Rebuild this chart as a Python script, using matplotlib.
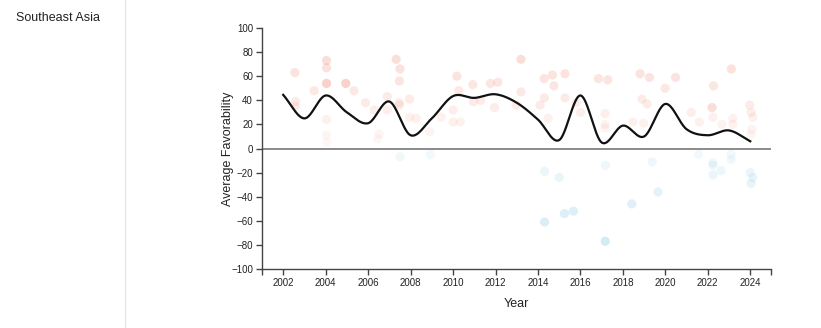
import numpy as np
import matplotlib
matplotlib.use("Agg")
import matplotlib.pyplot as plt

plt.rcParams['font.family'] = ['Liberation Sans', 'DejaVu Sans']

region = "Southeast Asia"

# yearly average favorability (trend line)
trend_years = list(range(2002, 2025))
trend_vals = [44.5, 25, 44, 30, 21, 39, 11, 25, 43.5, 42, 45, 38, 24,
              7, 44, 5, 19, 10, 37, 16, 11, 15, 6]

# individual survey results
survey_years = [
    2002.55, 2002.58, 2002.58, 2003.46, 2004.04, 2004.04, 2004.04, 2004.04,
    2004.04, 2004.04, 2004.04, 2004.95, 2004.95, 2005.33, 2005.88, 2006.28,
    2006.52, 2006.45, 2006.9, 2006.9, 2007.32, 2007.5, 2007.47, 2007.47,
    2007.47, 2007.95, 2007.95, 2008.26, 2008.9, 2009.44, 2010.18, 2010.27,
    2010.0, 2010.0, 2010.34, 2010.93, 2010.96, 2011.3, 2011.76, 2012.11,
    2011.95, 2012.97, 2013.2, 2013.2, 2014.1, 2014.29, 2014.3, 2014.48,
    2014.68, 2014.75, 2015.27, 2015.27, 2015.8, 2016.0, 2016.85, 2017.29,
    2017.16, 2017.16, 2017.16, 2018.47, 2018.81, 2018.9, 2018.97, 2019.14,
    2019.25, 2019.99, 2020.48, 2021.22, 2021.6, 2022.2, 2022.2, 2022.27,
    2022.24, 2022.66, 2023.11, 2023.18, 2023.18, 2023.97, 2024.04, 2024.12,
    2024.08, 2024.04,
    # negative results
    2007.5, 2008.93, 2014.31, 2015.0, 2014.31, 2015.25, 2015.67, 2017.18,
    2017.17, 2018.42, 2019.38, 2019.65, 2021.56, 2022.24, 2022.24, 2022.24,
    2022.62, 2023.1, 2023.1, 2024.0, 2024.12, 2024.04,
]
survey_vals = [
    63, 39, 35, 48, 73, 67, 54, 54,
    24, 11, 5, 54, 54, 48, 38, 32,
    12, 8, 43, 32, 74, 66, 56, 38,
    36, 41, 26, 25, 14, 26, 60, 48,
    32, 22, 22, 53, 39, 40, 54, 55,
    34, 36, 74, 47, 36, 58, 42, 25,
    61, 52, 62, 42, 38, 30, 58, 57,
    29, 20, 17, 22, 62, 41, 21, 37,
    59, 50, 59, 30, 22, 34, 34, 52,
    26, 20, 66, 25, 20, 36, 30, 26,
    16, 12,
    -7, -5, -19, -24, -61, -54, -52, -14,
    -77, -46, -11, -36, -5, -12, -14, -22,
    -18.5, -5, -9, -20, -24, -29,
]


def catmull_rom(xs, ys, n=40):
    # uniform catmull-rom through every point
    xs = np.asarray(xs, float)
    ys = np.asarray(ys, float)
    px = np.concatenate([[2 * xs[0] - xs[1]], xs, [2 * xs[-1] - xs[-2]]])
    py = np.concatenate([[2 * ys[0] - ys[1]], ys, [2 * ys[-1] - ys[-2]]])
    outx, outy = [], []
    t = np.linspace(0, 1, n)
    for i in range(1, len(px) - 2):
        for p, out in ((px, outx), (py, outy)):
            p0, p1, p2, p3 = p[i - 1], p[i], p[i + 1], p[i + 2]
            out.extend(0.5 * (2 * p1 + (-p0 + p2) * t
                              + (2 * p0 - 5 * p1 + 4 * p2 - p3) * t ** 2
                              + (-p0 + 3 * p1 - 3 * p2 + p3) * t ** 3))
    return np.array(outx), np.array(outy)


fig = plt.figure(figsize=(8.21, 3.28), dpi=100)
fig.text(16 / 821, 1 - 18 / 328, region, fontsize=9, color="#222222",
         va="center", ha="left")
fig.add_artist(plt.Line2D([125 / 821, 125 / 821], [0, 1], color="#e6e6e6",
                          lw=1, transform=fig.transFigure))

ax = fig.add_axes([0.3191, 0.1799, 0.9397 - 0.3191, 0.9146 - 0.1799])

vals = np.array(survey_vals)
pos_col = np.array([240, 140, 118]) / 255
neg_col = np.array([125, 192, 226]) / 255
colors = []
for v in vals:
    if v >= 0:
        colors.append((*pos_col, 0.05 + 0.3 * v / 100))
    else:
        colors.append((*neg_col, 0.08 + 0.32 * -v / 100))
ax.scatter(survey_years, vals, s=44, c=colors, edgecolors="none", zorder=2)

ax.axhline(0, color="#8a8a8a", lw=1.4, zorder=1)

cx, cy = catmull_rom(trend_years, trend_vals)
ax.plot(cx, cy, color="#111111", lw=1.6, zorder=3)

ax.set_xlim(2001, 2025)
ax.set_ylim(-100, 100)
ax.set_xticks(range(2002, 2025, 2))
ax.set_xticks([2001, 2025], minor=True)
ax.set_yticks(range(-100, 101, 20))
ax.tick_params(axis="both", which="both", labelsize=7, length=4.5, width=1,
               color="#444444", labelcolor="#222222", pad=2)
for side in ("top", "right"):
    ax.spines[side].set_visible(False)
for side in ("left", "bottom"):
    ax.spines[side].set_color("#444444")
    ax.spines[side].set_linewidth(1)

ax.set_xlabel("Year", fontsize=9, color="#222222", labelpad=7)
ax.set_ylabel("Average Favorability", fontsize=9, color="#222222", labelpad=-2)

fig.savefig("out.png", dpi=100)
